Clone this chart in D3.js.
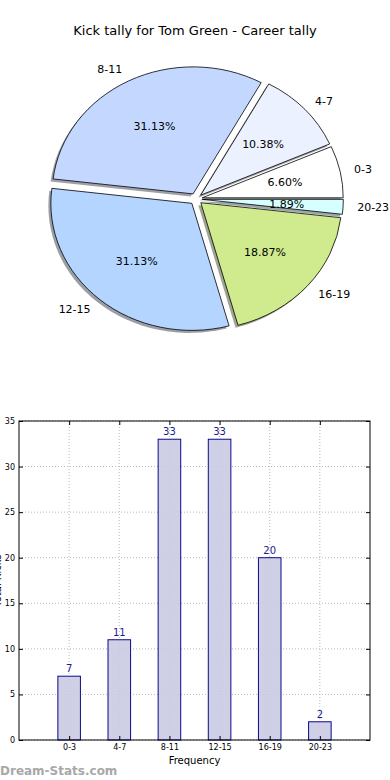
<!DOCTYPE html>
<html>
<head>
<meta charset="utf-8">
<script src="https://d3js.org/d3.v7.min.js"></script>
<style>
  body{margin:0;background:#fff;}
  svg{display:block;font-family:"DejaVu Sans",sans-serif;}
</style>
</head>
<body>
<svg id="chart" width="390" height="780"></svg>
<script>
// data
var categories = ['0-3','4-7','8-11','12-15','16-19','20-23'];
var kicks = [7, 11, 33, 33, 20, 2];
var sliceColors = ['#ffffff','#ebf1ff','#c4d8ff','#b4d5ff','#d0eb8d','#d6ffff'];
var yTicks = [0,5,10,15,20,25,30,35];

var title = 'Kick tally for Tom Green - Career tally';

var svg = d3.select('#chart');

//标题
svg.append('text')
    .attr('x',195).attr('y',35)
    .attr('text-anchor','middle')
    .attr('font-size','13px')
    .attr('fill','#000')
    .text(title);

// ---------- pie ----------
var cx = 196, cy = 199, rx = 141, ry = 127;
var explode = 0.045;
var total = d3.sum(kicks);

// matplotlib starts at 3 o'clock, counter clockwise
var pie = d3.pie().sort(null).value(function(d){return d;})
    .startAngle(Math.PI/2).endAngle(Math.PI/2 - Math.PI*2);
var arcs = pie(kicks);

var unitArc = d3.arc().innerRadius(0).outerRadius(1);

function offsetOf(a, k){
    var m = (a.startAngle + a.endAngle)/2;
    return [cx + rx*explode*Math.sin(m) + k*rx*Math.sin(m),
            cy - ry*explode*Math.cos(m) - k*ry*Math.cos(m)];
}

var pieG = svg.append('g');

//阴影
arcs.forEach(function(a,i){
    var c = d3.color(sliceColors[i]);
    var p = offsetOf(a,0);
    pieG.append('path')
        .attr('d',unitArc(a))
        .attr('transform','translate('+(p[0]-2.5)+','+(p[1]+2.5)+') scale('+rx+','+ry+')')
        .attr('fill',d3.rgb(c.r*0.3,c.g*0.3,c.b*0.3))
        .attr('fill-opacity',0.5);
});

//扇区
arcs.forEach(function(a,i){
    var p = offsetOf(a,0);
    pieG.append('path')
        .attr('d',unitArc(a))
        .attr('transform','translate('+p[0]+','+p[1]+') scale('+rx+','+ry+')')
        .attr('fill',sliceColors[i])
        .attr('stroke','#000')
        .attr('stroke-width',0.8)
        .attr('vector-effect','non-scaling-stroke');
});

//标签
arcs.forEach(function(a,i){
    var m = (a.startAngle + a.endAngle)/2;
    var lp = offsetOf(a,1.1);
    pieG.append('text')
        .attr('x',lp[0]).attr('y',lp[1])
        .attr('dy','0.35em')
        .attr('text-anchor', Math.sin(m) >= 0 ? 'start' : 'end')
        .attr('font-size','11px')
        .attr('fill','#000')
        .text(categories[i]);
    var pp = offsetOf(a,0.6);
    pieG.append('text')
        .attr('x',pp[0]).attr('y',pp[1])
        .attr('dy','0.35em')
        .attr('text-anchor','middle')
        .attr('font-size','11px')
        .attr('fill','#000')
        .text((kicks[i]/total*100).toFixed(2)+'%');
});

// ---------- bar chart ----------
var pLeft = 19, pRight = 370, pTop = 421, pBottom = 740;
var x = d3.scaleLinear().domain([-1, categories.length]).range([pLeft, pRight]);
var y = d3.scaleLinear().domain([0, 35]).range([pBottom, pTop]);
var barW = 0.45;

var barG = svg.append('g');

//网格
barG.selectAll('line.gy').data(yTicks).enter().append('line')
    .attr('x1',pLeft).attr('x2',pRight)
    .attr('y1',function(d){return y(d);}).attr('y2',function(d){return y(d);})
    .attr('stroke','#b8b8b8').attr('stroke-dasharray','1,2');
barG.selectAll('line.gx').data(categories).enter().append('line')
    .attr('x1',function(d,i){return x(i);}).attr('x2',function(d,i){return x(i);})
    .attr('y1',pTop).attr('y2',pBottom)
    .attr('stroke','#b8b8b8').attr('stroke-dasharray','1,2');

//柱子
barG.selectAll('rect.bar').data(kicks).enter().append('rect')
    .attr('x',function(d,i){return x(i - barW/2);})
    .attr('y',function(d){return y(d);})
    .attr('width',x(barW) - x(0))
    .attr('height',function(d){return y(0) - y(d);})
    .attr('fill','#cacae3')
    .attr('fill-opacity',0.9)
    .attr('stroke','#0a0a8a')
    .attr('stroke-width',1);

barG.selectAll('text.val').data(kicks).enter().append('text')
    .attr('x',function(d,i){return x(i);})
    .attr('y',function(d){return y(d) - 4;})
    .attr('text-anchor','middle')
    .attr('font-size','10px')
    .attr('fill','#1b1b8e')
    .text(function(d){return d;});

// axes, ticks inside like matplotlib
var yAxis = d3.axisLeft(y).tickValues(yTicks).tickSizeInner(-4).tickSizeOuter(0).tickPadding(4);
var gy = barG.append('g').attr('transform','translate('+pLeft+',0)').call(yAxis);
var xAxis = d3.axisBottom(x).tickValues(d3.range(categories.length))
    .tickFormat(function(i){return categories[i];})
    .tickSizeInner(-4).tickSizeOuter(0).tickPadding(4);
var gx = barG.append('g').attr('transform','translate(0,'+pBottom+')').call(xAxis);
[gx,gy].forEach(function(g){
    g.select('.domain').remove();
    g.selectAll('text').attr('font-size','8px').attr('fill','#000').attr('font-family','"DejaVu Sans",sans-serif');
    g.selectAll('line').attr('stroke','#000');
});
// top / right tick marks
barG.append('g').attr('transform','translate(0,'+pTop+')')
    .call(d3.axisTop(x).tickValues(d3.range(categories.length)).tickSizeInner(-4).tickSizeOuter(0).tickFormat(''))
    .call(function(g){g.select('.domain').remove();});
barG.append('g').attr('transform','translate('+pRight+',0)')
    .call(d3.axisRight(y).tickValues(yTicks).tickSizeInner(-4).tickSizeOuter(0).tickFormat(''))
    .call(function(g){g.select('.domain').remove();});

//外框
barG.append('rect')
    .attr('x',pLeft).attr('y',pTop)
    .attr('width',pRight-pLeft).attr('height',pBottom-pTop)
    .attr('fill','none').attr('stroke','#000').attr('stroke-width',1);

barG.append('text')
    .attr('x',(pLeft+pRight)/2).attr('y',764)
    .attr('text-anchor','middle')
    .attr('font-size','10px')
    .text('Frequency');

// y label, clipped by the left edge as in the source image
barG.append('text')
    .attr('transform','translate(1,'+((pTop+pBottom)/2)+') rotate(-90)')
    .attr('text-anchor','middle')
    .attr('font-size','10px')
    .text('Total Kicks');

//水印
svg.append('text')
    .attr('x',0).attr('y',775)
    .attr('font-size','12px')
    .attr('font-weight','bold')
    .attr('fill','#a8a8a8')
    .text('Dream-Stats.com');
</script>
</body>
</html>
